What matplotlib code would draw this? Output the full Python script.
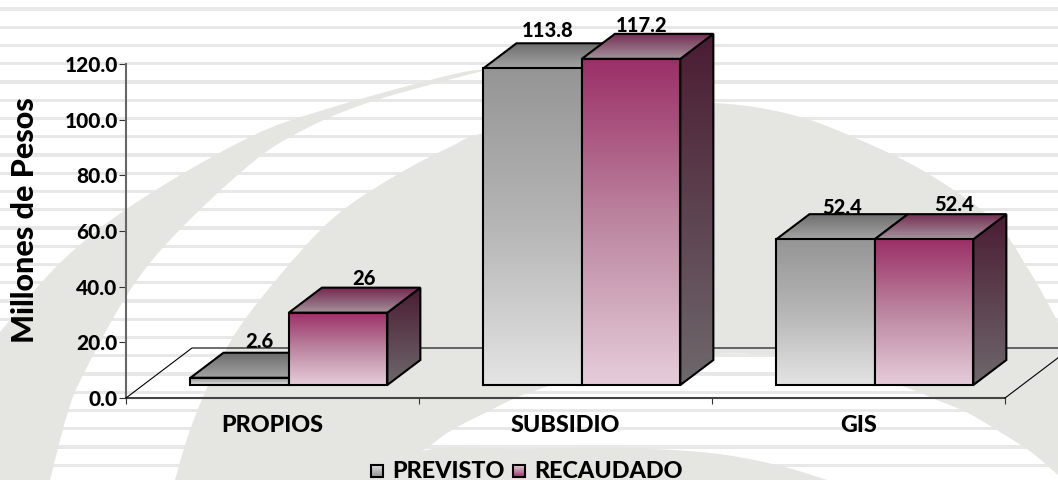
import matplotlib
matplotlib.use("Agg")
import matplotlib.pyplot as plt
import numpy as np
from matplotlib.colors import LinearSegmentedColormap
from matplotlib.patches import Polygon

categories = ["PROPIOS", "SUBSIDIO", "GIS"]
previsto = [2.6, 113.8, 52.4]
recaudado = [26, 117.2, 52.4]
prev_labels = ["2.6", "113.8", "52.4"]
rec_labels = ["26", "117.2", "52.4"]
y_ticks = [0, 20, 40, 60, 80, 100, 120]

W, H = 1058, 480
X0, UX = 126, 293.0     # pixel of x=0, pixels per category
Y0, UY = 398, 2.783     # pixel of y=0, pixels per million

plt.rcParams['font.family'] = ['Lato', 'DejaVu Sans']
plt.rcParams['font.weight'] = 900

GRAY = '#e5e5e1'
STRIPE = '#e8e8e8'

fig = plt.figure(figsize=(W / 100, H / 100), dpi=100)

# background in pixel coordinates
bg = fig.add_axes([0, 0, 1, 1], zorder=0)
bg.set_xlim(0, W)
bg.set_ylim(H, 0)
bg.axis('off')

for y in np.arange(9, H, 18.25):
    bg.fill_between([0, W], y - 1.7, y + 1.7, color=STRIPE, lw=0, zorder=1)


def smooth(points):
    # Catmull-Rom through the points, returned as a polyline
    p = np.array(points, dtype=float)
    p = np.vstack([p[0], p, p[-1]])
    out = []
    for i in range(1, len(p) - 2):
        for t in np.linspace(0, 1, 12, endpoint=False):
            a = 2 * p[i] + (p[i + 1] - p[i - 1]) * t
            b = (2 * p[i - 1] - 5 * p[i] + 4 * p[i + 1] - p[i + 2]) * t ** 2
            c = (3 * p[i] - p[i - 1] - 3 * p[i + 1] + p[i + 2]) * t ** 3
            out.append(0.5 * (a + b + c))
    out.append(p[-1])
    return np.array(out)


crescent_out = [(0, 332), (63, 260), (140, 200), (250, 137), (330, 108), (450, 75), (490, 69)]
crescent_in = [(490, 69), (367, 103), (290, 137), (240, 173), (170, 240), (127, 295), (83, 375), (67, 415), (50, 480)]
dome_out = [(175, 480), (190, 430), (213, 375), (243, 322), (300, 252), (343, 210), (400, 173), (450, 147),
            (484, 133), (600, 106), (713, 103), (793, 115), (860, 140), (927, 173), (993, 220), (1027, 267), (1058, 322)]
dome_in = [(1058, 475), (1031, 452), (1000, 432), (968, 413), (937, 400), (905, 387), (840, 366), (767, 355),
           (700, 355), (620, 366), (531, 392), (485, 413), (452, 430), (427, 448), (400, 467), (390, 480)]
swoosh_c = [(380, 480), (427, 450), (520, 449), (620, 448), (710, 453), (777, 465), (827, 480)]

bg.add_patch(Polygon(np.vstack([[(0, 480)], smooth(crescent_out), smooth(crescent_in)]), fc=GRAY, ec='none', zorder=2))
bg.add_patch(Polygon(np.vstack([smooth(dome_out), [(1058, 480)], smooth(dome_in)]), fc=GRAY, ec='none', zorder=2))
bg.add_patch(Polygon(smooth(swoosh_c), fc=GRAY, ec='none', zorder=2))

ax = fig.add_axes([0, 0, 1, 1], zorder=1)
ax.patch.set_visible(False)
ax.set_autoscale_on(False)
ax.set_xlim(-X0 / UX, (W - X0) / UX)
ax.set_ylim(-(H - Y0) / UY, Y0 / UY)

PREV_FRONT = ['#959595', '#b6b6b6', '#e4e4e4']
PREV_TOP = ['#6c6c6c', '#a4a4a4']
PREV_SIDE = ['#4a4a4a', '#6a6a6a']
REC_FRONT = ['#9b2f67', '#bc86a0', '#e6cddb']
REC_TOP = ['#742a50', '#a4939c']
REC_SIDE = ['#4b1c33', '#6e686c']

BAR_OFF = 0.22
BAR_W = 0.336
DX = 33 / UX
DY = 25 / UY
BASE = 13 / UY
z = [10]


def face(a, verts, colors):
    verts = np.array(verts)
    cmap = LinearSegmentedColormap.from_list('f', colors)
    grad = np.linspace(0, 1, 256).reshape(-1, 1)
    z[0] += 1
    ext = [verts[:, 0].min(), verts[:, 0].max(), verts[:, 1].min(), verts[:, 1].max()]
    im = a.imshow(grad, cmap=cmap, extent=ext, origin='upper', aspect='auto', interpolation='bilinear', zorder=z[0])
    poly = Polygon(verts, closed=True, fc='none', ec='black', lw=1.5, joinstyle='miter', zorder=z[0] + 0.5)
    a.add_patch(poly)
    im.set_clip_path(poly)


def box(a, left, value, front, top, side):
    right = left + BAR_W
    b = BASE
    t = BASE + value
    face(a, [(right, b), (right + DX, b + DY), (right + DX, t + DY), (right, t)], side)
    face(a, [(left, t), (right, t), (right + DX, t + DY), (left + DX, t + DY)], top)
    face(a, [(left, b), (right, b), (right, t), (left, t)], front)


# floor of the 3d box
floor_x = 66 / UX
floor_y = 50 / UY
ax.plot([0, floor_x, 3 + floor_x, 3], [0, floor_y, floor_y, 0], color='black', lw=0.8, zorder=3)

for i in range(len(categories)):
    left = i + BAR_OFF
    box(ax, left, previsto[i], PREV_FRONT, PREV_TOP, PREV_SIDE)
    box(ax, left + BAR_W, recaudado[i], REC_FRONT, REC_TOP, REC_SIDE)

# value labels, nudged by hand like in the original
prev_nudge = [(20, 2), (15, 3), (16, -3)]
rec_nudge = [(26, 0), (11, -1), (30, 0)]
for i in range(len(categories)):
    left = i + BAR_OFF
    ax.annotate(prev_labels[i], (left + BAR_W / 2, BASE + previsto[i] + DY), xytext=prev_nudge[i],
                textcoords='offset pixels', ha='center', va='bottom', fontsize=14.5, zorder=50)
    ax.annotate(rec_labels[i], (left + 1.5 * BAR_W, BASE + recaudado[i] + DY), xytext=rec_nudge[i],
                textcoords='offset pixels', ha='center', va='bottom', fontsize=14.5, zorder=50)

for s in ['top', 'right']:
    ax.spines[s].set_visible(False)
ax.spines['left'].set_position(('data', 0))
ax.spines['bottom'].set_position(('data', 0))
ax.spines['left'].set_bounds(0, 120)
ax.spines['bottom'].set_bounds(0, 3)
ax.spines['left'].set_color('#666666')
ax.spines['bottom'].set_color('#444444')
ax.spines['left'].set_linewidth(1.5)
ax.spines['bottom'].set_linewidth(1.5)

ax.set_yticks(y_ticks)
ax.set_yticklabels([f"{v:.1f}" for v in y_ticks], fontsize=15)
ax.set_xticks([0, 1, 2, 3])
ax.set_xticklabels([])
ax.set_xticks([0.5, 1.5, 2.5], minor=True)
ax.set_xticklabels(categories, minor=True, fontsize=16.8)
ax.tick_params(axis='x', which='major', length=4, width=0.8, color='#333333', direction='out')
ax.tick_params(axis='x', which='minor', length=0, pad=12)
ax.tick_params(axis='y', length=5, width=0.8, color='#333333', pad=1)

fig.text(25 / W, 1 - 220 / H, "Millones de Pesos", rotation=90, ha='center', va='center', fontsize=22, zorder=5)

# legend
z[0] = 10
face(bg, [(371, 465), (383, 465), (383, 477), (371, 477)], PREV_FRONT)
face(bg, [(513, 465), (525, 465), (525, 477), (513, 477)], REC_FRONT)
bg.text(392, 471, "PREVISTO", ha='left', va='center', fontsize=16.8, zorder=30)
bg.text(534, 471, "RECAUDADO", ha='left', va='center', fontsize=16.8, zorder=30)
bg.set_xlim(0, W)
bg.set_ylim(H, 0)

fig.savefig("out.png", dpi=100)
